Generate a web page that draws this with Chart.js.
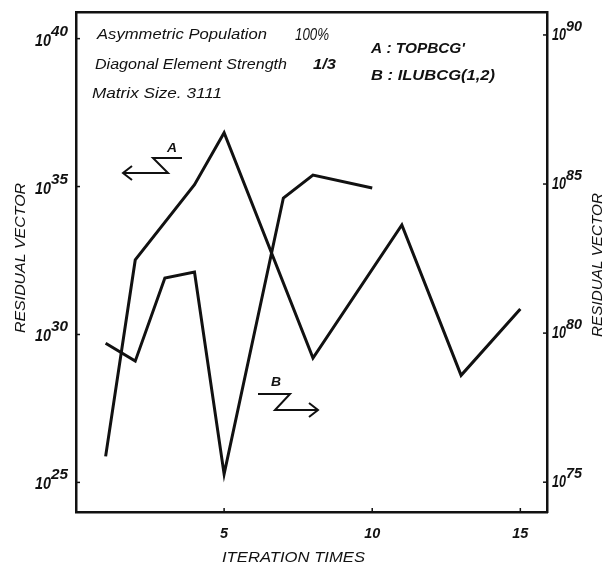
<!DOCTYPE html>
<html>
<head>
<meta charset="utf-8">
<script src="https://cdn.jsdelivr.net/npm/chart.js@4/dist/chart.umd.min.js"></script>
<style>
  html, body { margin: 0; padding: 0; background: #fff; }
  #wrap { width: 607px; height: 573px; position: relative; }
</style>
</head>
<body>
<div id="wrap"><canvas id="chart"></canvas></div>
<script>
// iteration number and log10 of the residual vector
const iterA = [1, 2, 4, 5, 8, 11, 13, 15];
const expA = [25.88, 32.52, 35.06, 36.82, 29.2, 33.7, 28.62, 30.86];
const iterB = [1, 2, 3, 4, 5, 7, 8, 10];
const expB = [79.66, 79.06, 81.85, 82.05, 75.27, 84.53, 85.3, 84.87];

const xTicks = [5, 10, 15];
const leftTicks = [25, 30, 35, 40];
const rightTicks = [75, 80, 85, 90];

const infoLines = [
  ['Asymmetric Population', '100%'],
  ['Diagonal Element Strength', '1/3'],
  ['Matrix Size. 3111', ''],
];
const legendLines = ["A : TOPBCG'", 'B : ILUBCG(1,2)'];
const xTitle = 'ITERATION TIMES';
const yTitle = 'RESIDUAL VECTOR';

const INK = '#111';
const FONT = '"Liberation Sans", Arial, sans-serif';

// draws text squeezed/stretched to a given width
function fitText(ctx, text, x, y, w, size, weight) {
  ctx.save();
  ctx.font = 'italic ' + (weight || 'normal') + ' ' + size + 'px ' + FONT;
  const m = ctx.measureText(text).width;
  ctx.translate(x, y);
  ctx.scale(w / m, 1);
  ctx.textAlign = 'left';
  ctx.textBaseline = 'alphabetic';
  ctx.fillText(text, 0, 0);
  ctx.restore();
}

function arrow(ctx, pts, headAt, dir) {
  ctx.beginPath();
  ctx.moveTo(pts[0][0], pts[0][1]);
  for (let i = 1; i < pts.length; i++) ctx.lineTo(pts[i][0], pts[i][1]);
  ctx.stroke();
  const [hx, hy] = headAt;
  ctx.beginPath();
  ctx.moveTo(hx - dir * 9, hy - 7);
  ctx.lineTo(hx, hy);
  ctx.lineTo(hx - dir * 9, hy + 7);
  ctx.stroke();
}

const decorations = {
  id: 'decorations',
  afterDraw(chart) {
    const ctx = chart.ctx;
    const x = chart.scales.x, y = chart.scales.y, y1 = chart.scales.y1;
    ctx.save();
    ctx.fillStyle = INK;
    ctx.strokeStyle = INK;
    ctx.lineWidth = 1.5;

    // small inward tick marks
    leftTicks.forEach(v => {
      const py = y.getPixelForValue(v);
      ctx.beginPath(); ctx.moveTo(x.left, py); ctx.lineTo(x.left + 4, py); ctx.stroke();
    });
    rightTicks.forEach(v => {
      const py = y1.getPixelForValue(v);
      ctx.beginPath(); ctx.moveTo(x.right, py); ctx.lineTo(x.right - 4, py); ctx.stroke();
    });
    xTicks.forEach(v => {
      const px = x.getPixelForValue(v);
      ctx.beginPath(); ctx.moveTo(px, y.bottom); ctx.lineTo(px, y.bottom - 4); ctx.stroke();
    });

    // tick labels
    leftTicks.forEach(v => {
      const py = y.getPixelForValue(v);
      fitText(ctx, '10', 35, py + 7, 16, 17, 'bold');
      fitText(ctx, String(v), 51, py - 3, 17, 14, 'bold');
    });
    rightTicks.forEach(v => {
      const py = y1.getPixelForValue(v);
      fitText(ctx, '10', 552, py + 5, 14, 17, 'bold');
      fitText(ctx, String(v), 566, py - 4, 16, 14, 'bold');
    });
    xTicks.forEach(v => {
      const px = x.getPixelForValue(v);
      const w = v < 10 ? 8 : 16;
      fitText(ctx, String(v), px - w / 2, 538, w, 15, 'bold');
    });

    // axis titles
    fitText(ctx, xTitle, 222, 562, 143, 14);
    ctx.save();
    ctx.translate(25, 333);
    ctx.rotate(-Math.PI / 2);
    fitText(ctx, yTitle, 0, 0, 150, 14);
    ctx.restore();
    ctx.save();
    ctx.translate(602, 337);
    ctx.rotate(-Math.PI / 2);
    fitText(ctx, yTitle, 0, 0, 144, 14);
    ctx.restore();

    // header notes
    fitText(ctx, infoLines[0][0], 97, 39, 170, 14);
    fitText(ctx, infoLines[0][1], 295, 40, 34, 16);
    fitText(ctx, infoLines[1][0], 95, 69, 192, 14);
    fitText(ctx, infoLines[1][1], 313, 69, 23, 14, 'bold');
    fitText(ctx, infoLines[2][0], 92, 98, 130, 14);
    fitText(ctx, legendLines[0], 371, 53, 94, 14, 'bold');
    fitText(ctx, legendLines[1], 371, 80, 124, 14, 'bold');

    // axis pointers for A and B
    ctx.lineWidth = 2;
    arrow(ctx, [[182, 158], [153, 158], [168, 173], [123, 173]], [123, 173], -1);
    fitText(ctx, 'A', 167, 152, 10, 13, 'bold');
    arrow(ctx, [[258, 394], [290, 394], [275, 410], [318, 410]], [318, 410], 1);
    fitText(ctx, 'B', 271, 386, 10, 13, 'bold');

    ctx.restore();
  }
};

const lineStyle = {
  borderColor: INK,
  borderWidth: 3,
  pointRadius: 0,
  tension: 0,
  fill: false,
  borderJoinStyle: 'miter',
};

const borderOnly = {
  grid: { display: false, drawTicks: false },
  ticks: { display: false },
  border: { display: true, color: INK, width: 2.5 },
};

new Chart(document.getElementById('chart'), {
  type: 'line',
  data: {
    datasets: [
      Object.assign({ label: 'A', yAxisID: 'y',
        data: iterA.map((it, i) => ({ x: it, y: expA[i] })) }, lineStyle),
      Object.assign({ label: 'B', yAxisID: 'y1',
        data: iterB.map((it, i) => ({ x: it, y: expB[i] })) }, lineStyle),
    ]
  },
  options: {
    responsive: true,
    maintainAspectRatio: false,
    animation: false,
    layout: { padding: { left: 76, right: 60, top: 12, bottom: 61 } },
    plugins: { legend: { display: false }, tooltip: { enabled: false } },
    scales: {
      x: Object.assign({ type: 'linear', position: 'bottom', min: 0, max: 15.9 }, borderOnly),
      xTop: Object.assign({ type: 'linear', position: 'top', min: 0, max: 15.9 }, borderOnly),
      y: Object.assign({ type: 'linear', position: 'left', min: 24, max: 40.9 }, borderOnly),
      y1: Object.assign({ type: 'linear', position: 'right', min: 74, max: 90.77 }, borderOnly),
    }
  },
  plugins: [decorations]
});
</script>
</body>
</html>
